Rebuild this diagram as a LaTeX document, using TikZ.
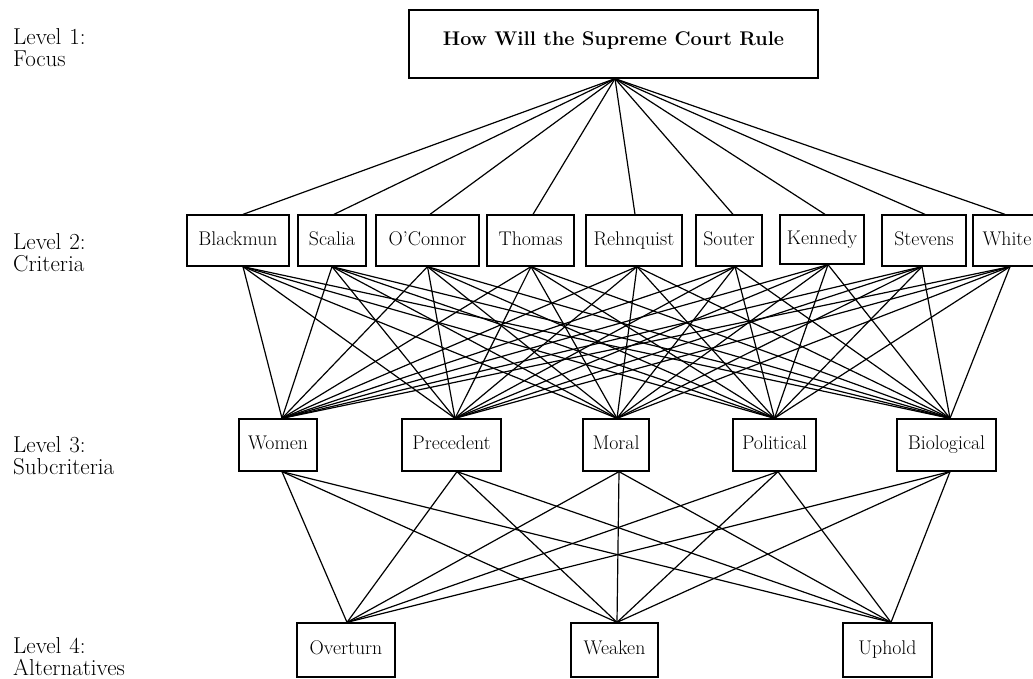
\documentclass[tikz,border=0pt]{standalone}
\begin{document}
\begin{tikzpicture}[x=1pt,y=-1pt,
  box/.style={draw,line width=1.3pt,inner sep=0pt,text height=14pt,text depth=4.5pt,font=\fontsize{19.8}{22}\selectfont},
  lvl/.style={anchor=north west,align=left,inner sep=0pt,font=\fontsize{23}{22}\selectfont},
  conn/.style={line width=1.2pt}]
\useasboundingbox (0,0) rectangle (1033,679);
% level labels
\node[lvl] (l1) at (13,28) {Level\hspace{8pt}1:\\Focus};
\node[lvl] (l2) at (13,233) {Level\hspace{8pt}2:\\Criteria};
\node[lvl] (l3) at (13,436) {Level\hspace{8pt}3:\\Subcriteria};
\node[lvl] (l4) at (13,637) {Level\hspace{8pt}4:\\Alternatives};
% level 1
\node[box,minimum width=409pt,minimum height=68pt,text height=14.5pt,text depth=11pt,font=\bfseries\fontsize{19.8}{22}\selectfont] (top) at (613.5,44) {How Will the Supreme Court Rule};
% level 2
\node[box,minimum width=102pt,minimum height=51pt] (b1) at (238,240.5) {Blackmun};
\node[box,minimum width=68pt,minimum height=51pt] (b2) at (332,240.5) {Scalia};
\node[box,minimum width=103pt,minimum height=51pt] (b3) at (427.5,240.5) {O'Connor};
\node[box,minimum width=87pt,minimum height=51pt] (b4) at (530.5,240.5) {Thomas};
\node[box,minimum width=96pt,minimum height=51pt] (b5) at (634,240.5) {Rehnquist};
\node[box,minimum width=66pt,minimum height=51pt] (b6) at (729,240.5) {Souter};
\node[box,minimum width=84pt,minimum height=49pt] (b7) at (822,239.5) {Kennedy};
\node[box,minimum width=84pt,minimum height=51pt] (b8) at (924,240.5) {Stevens};
\node[box,minimum width=68pt,minimum height=51pt] (b9) at (1007,240.5) {White};
% level 3
\node[box,minimum width=78pt,minimum height=52pt] (c1) at (278,445) {Women};
\node[box,minimum width=99pt,minimum height=52pt] (c2) at (451.5,445) {Precedent};
\node[box,minimum width=66pt,minimum height=52pt] (c3) at (616,445) {Moral};
\node[box,minimum width=83pt,minimum height=52pt] (c4) at (774.5,445) {Political};
\node[box,minimum width=99pt,minimum height=52pt] (c5) at (946.5,445) {Biological};
% level 4
\node[box,minimum width=98pt,minimum height=54pt] (d1) at (346,650) {Overturn};
\node[box,minimum width=87pt,minimum height=54pt] (d2) at (614.5,650) {Weaken};
\node[box,minimum width=89pt,minimum height=54pt] (d3) at (887.5,650) {Uphold};
% connection points
\coordinate (top-b) at ([xshift=1.5pt]top.south);
\foreach \n/\dt/\db in {b1/5/5,b2/2/0,b3/2.5/0,b4/2.5/0.5,b5/1/3,b6/4/6,b7/3/6,b8/1/-2,b9/-2/3,
                        c1/4/4,c2/3.5/5.5,c3/1/3,c4/0/3.5,c5/3.5/3.5}{
  \coordinate (\n-t) at ([xshift=\dt pt]\n.north);
  \coordinate (\n-b) at ([xshift=\db pt]\n.south);
}
\foreach \n/\dt in {d1/1,d2/2.5,d3/3.5}{
  \coordinate (\n-t) at ([xshift=\dt pt]\n.north);
}
% connectors
\foreach \j in {b1,b2,b3,b4,b5,b6,b7,b8,b9}{
  \draw[conn] (top-b) -- (\j-t);
  \foreach \k in {c1,c2,c3,c4,c5}{
    \draw[conn] (\j-b) -- (\k-t);
  }
}
\foreach \k in {c1,c2,c3,c4,c5}{
  \foreach \m in {d1,d2,d3}{
    \draw[conn] (\k-b) -- (\m-t);
  }
}
\end{tikzpicture}
\end{document}
